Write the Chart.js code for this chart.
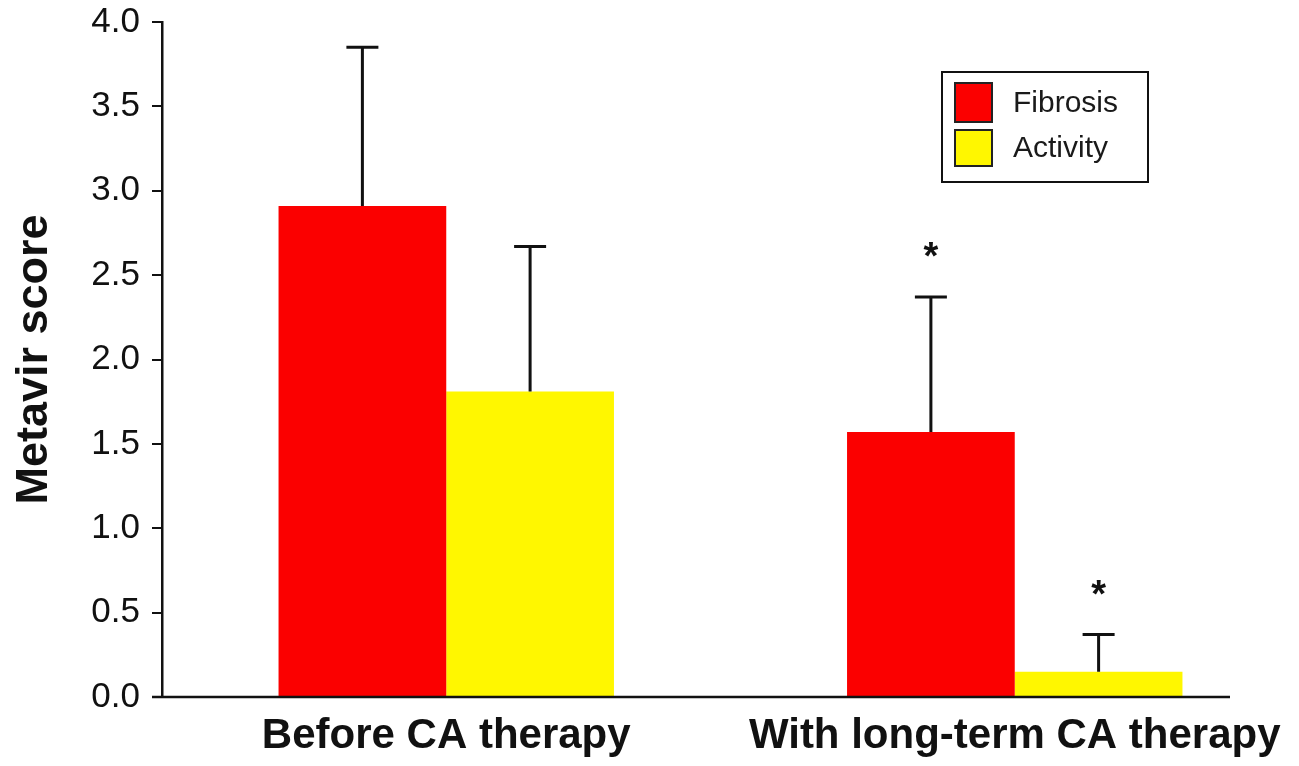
<!DOCTYPE html>
<html>
<head>
<meta charset="utf-8">
<script src="https://cdn.jsdelivr.net/npm/chart.js@4.4.1/dist/chart.umd.min.js"></script>
<style>
  html, body { margin: 0; padding: 0; background: #ffffff; }
  #wrap { width: 1299px; height: 766px; position: relative; }
</style>
</head>
<body>
<div id="wrap"><canvas id="c"></canvas></div>
<script>
// ---- data ----
const categories = ["Before CA therapy", "With long-term CA therapy"];
const seriesNames = ["Fibrosis", "Activity"];
const fibrosisMean = [2.91, 1.57];
const fibrosisSD = [0.94, 0.80];
const fibrosisSig = [false, true];
const activityMean = [1.81, 0.15];
const activitySD = [0.86, 0.22];
const activitySig = [false, true];
const yTicks = [0, 0.5, 1.0, 1.5, 2.0, 2.5, 3.0, 3.5, 4.0];
const yTitle = "Metavir score";

const colors = ["#fb0000", "#fff700"];
const errs = [fibrosisSD, activitySD];
const sigs = [fibrosisSig, activitySig];

const errorBarPlugin = {
  id: 'errorBars',
  afterDatasetsDraw(chart) {
    const ctx = chart.ctx;
    const y = chart.scales.y;
    ctx.save();
    chart.data.datasets.forEach((ds, di) => {
      const meta = chart.getDatasetMeta(di);
      meta.data.forEach((bar, i) => {
        const v = ds.data[i];
        const top = y.getPixelForValue(v + errs[di][i]);
        ctx.strokeStyle = '#111';
        ctx.lineWidth = 3;
        ctx.beginPath();
        ctx.moveTo(bar.x, bar.y);
        ctx.lineTo(bar.x, top);
        ctx.moveTo(bar.x - 16, top);
        ctx.lineTo(bar.x + 16, top);
        ctx.stroke();
        if (sigs[di][i]) {
          ctx.fillStyle = '#111';
          ctx.font = 'bold 38px "Liberation Sans", Arial, sans-serif';
          ctx.textAlign = 'center';
          ctx.textBaseline = 'alphabetic';
          ctx.fillText('*', bar.x, top - 28);
        }
      });
    });
    ctx.restore();
  }
};

const axisLinePlugin = {
  id: 'axisLine',
  afterDraw(chart) {
    const ctx = chart.ctx;
    const a = chart.chartArea;
    const y0 = chart.scales.y.getPixelForValue(0);
    ctx.save();
    ctx.strokeStyle = '#111';
    ctx.lineWidth = 2.5;
    ctx.beginPath();
    ctx.moveTo(a.left - 10, y0);
    ctx.lineTo(a.right - 69, y0);
    ctx.stroke();
    ctx.restore();
  }
};

const legendPlugin = {
  id: 'boxLegend',
  afterDraw(chart) {
    const ctx = chart.ctx;
    const bx = 942, by = 72, bw = 206, bh = 110;
    ctx.save();
    ctx.fillStyle = '#ffffff';
    ctx.fillRect(bx, by, bw, bh);
    ctx.strokeStyle = '#111';
    ctx.lineWidth = 2;
    ctx.strokeRect(bx, by, bw, bh);
    const rows = [[83, 39], [130, 36]];
    chart.data.datasets.forEach((ds, i) => {
      const [sy, sh] = rows[i];
      ctx.fillStyle = ds.backgroundColor;
      ctx.fillRect(955, sy, 37, sh);
      ctx.strokeStyle = '#222';
      ctx.lineWidth = 2;
      ctx.strokeRect(955, sy, 37, sh);
      ctx.fillStyle = '#1a1a1a';
      ctx.font = '30px "Liberation Sans", Arial, sans-serif';
      ctx.textAlign = 'left';
      ctx.textBaseline = 'middle';
      ctx.fillText(ds.label, 1013, sy + sh / 2 + 1);
    });
    ctx.restore();
  }
};

new Chart(document.getElementById('c'), {
  type: 'bar',
  data: {
    labels: categories,
    datasets: [
      { label: seriesNames[0], data: fibrosisMean, backgroundColor: colors[0], borderWidth: 0 },
      { label: seriesNames[1], data: activityMean, backgroundColor: colors[1], borderWidth: 0 }
    ]
  },
  options: {
    responsive: true,
    maintainAspectRatio: false,
    animation: false,
    layout: { padding: { top: 22, left: 0, right: 0, bottom: 0 } },
    plugins: { legend: { display: false }, tooltip: { enabled: false } },
    datasets: { bar: { categoryPercentage: 0.59, barPercentage: 1.0 } },
    scales: {
      x: {
        grid: { display: false, drawTicks: false },
        border: { display: false },
        ticks: {
          color: '#111',
          font: { family: '"Liberation Sans", Arial, sans-serif', size: 42, weight: 'bold' },
          padding: 14,
          maxRotation: 0,
          autoSkip: false
        },
        afterFit(scale) { scale.height = 69; }
      },
      y: {
        min: 0,
        max: 4,
        afterBuildTicks(scale) { scale.ticks = yTicks.map(v => ({ value: v })); },
        grid: { drawOnChartArea: false, drawTicks: true, tickLength: 10, color: '#111', lineWidth: 2 },
        border: { display: true, color: '#111', width: 2.5 },
        ticks: {
          color: '#111',
          font: { family: '"Liberation Sans", Arial, sans-serif', size: 35 },
          padding: 12,
          callback: v => Number(v).toFixed(1)
        },
        title: {
          display: true,
          text: yTitle,
          color: '#111',
          font: { family: '"Liberation Sans", Arial, sans-serif', size: 45, weight: 'bold' },
          padding: { top: 8, bottom: 0 }
        },
        afterFit(scale) { scale.width = 162; scale.paddingTop = 0; scale.paddingBottom = 0; }
      }
    }
  },
  plugins: [errorBarPlugin, axisLinePlugin, legendPlugin]
});
</script>
</body>
</html>
